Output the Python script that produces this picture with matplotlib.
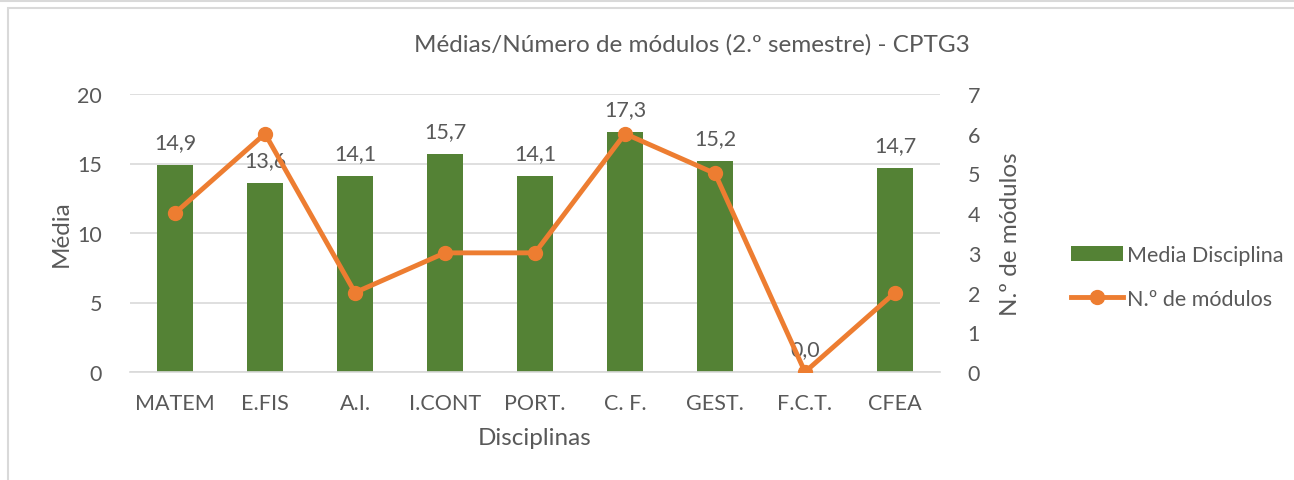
import numpy as np
import matplotlib.pyplot as plt
from matplotlib.patches import Rectangle
from matplotlib.lines import Line2D

plt.rcParams['font.family'] = ['Lato', 'DejaVu Sans']

disciplinas = ["MATEM", "E.FIS", "A.I.", "I.CONT", "PORT.", "C. F.", "GEST.", "F.C.T.", "CFEA"]
media = [14.9, 13.6, 14.1, 15.7, 14.1, 17.3, 15.2, 0.0, 14.7]
n_modulos = [4, 6, 2, 3, 3, 6, 5, 0, 2]

green = '#548235'
orange = '#ED7D31'
txt = '#595959'
grid = '#D9D9D9'

W, H = 1294, 481
fig = plt.figure(figsize=(W / 100, H / 100), dpi=100)
ax = fig.add_axes([130 / W, 1 - 373 / H, 810 / W, 278 / H])
ax2 = ax.twinx()

x = np.arange(len(disciplinas))
bars = ax.bar(x, media, width=0.4, color=green, label='Media Disciplina', zorder=2)
ax.set_xlim(-0.5, len(x) - 0.5)
ax.set_ylim(0, 20)
ax.set_yticks([0, 5, 10, 15, 20])
ax.yaxis.grid(True, color=grid, lw=1.2, zorder=0)
ax.set_axisbelow(True)
for s in ['top', 'right', 'left']:
    ax.spines[s].set_visible(False)
ax.spines['bottom'].set_color(grid)
ax.spines['bottom'].set_linewidth(1.2)
ax.set_xticks(x)
ax.set_xticklabels(disciplinas)
ax.tick_params(length=0, labelsize=15.5, colors=txt, pad=15)
ax.tick_params(axis='y', pad=20)

for xi, v in zip(x, media):
    ax.annotate(f"{v:.1f}".replace('.', ','), (xi, v), xytext=(0, 9),
                textcoords='offset points', ha='center', va='bottom',
                fontsize=15.5, color=txt)

line, = ax2.plot(x, n_modulos, color=orange, lw=3.5, marker='o', markersize=10,
                 label='N.º de módulos', zorder=3)
ax2.set_ylim(0, 7)
ax2.set_yticks(range(8))
for s in ax2.spines.values():
    s.set_visible(False)
ax2.tick_params(length=0, labelsize=15.5, colors=txt, pad=20)

ax.set_ylabel('Média', fontsize=17.5, color=txt, labelpad=4)
ax2.set_ylabel('N.º de módulos', fontsize=17.5, color=txt, labelpad=14)
ax.set_xlabel('Disciplinas', fontsize=17.5, color=txt, labelpad=10)

fig.text(692 / W, 1 - 45 / H, 'Médias/Número de módulos (2.º semestre) - CPTG3',
         ha='center', va='center', fontsize=17.5, color=txt)

fig.legend(handles=[bars, line], loc='center left', bbox_to_anchor=(1052 / W, 1 - 278 / H),
           frameon=False, fontsize=15.5, labelcolor=txt, handlelength=2.4,
           handletextpad=0.2, labelspacing=1.1)

# outer frame
fig.add_artist(Line2D([0, 1], [1 - 2 / H, 1 - 2 / H], color=grid, lw=1.5))
fig.add_artist(Rectangle((8 / W, -0.05), 1.1, 1 - 9 / H + 0.05, fill=False,
                         edgecolor=grid, lw=1.5))

fig.savefig('out.png', dpi=100)
